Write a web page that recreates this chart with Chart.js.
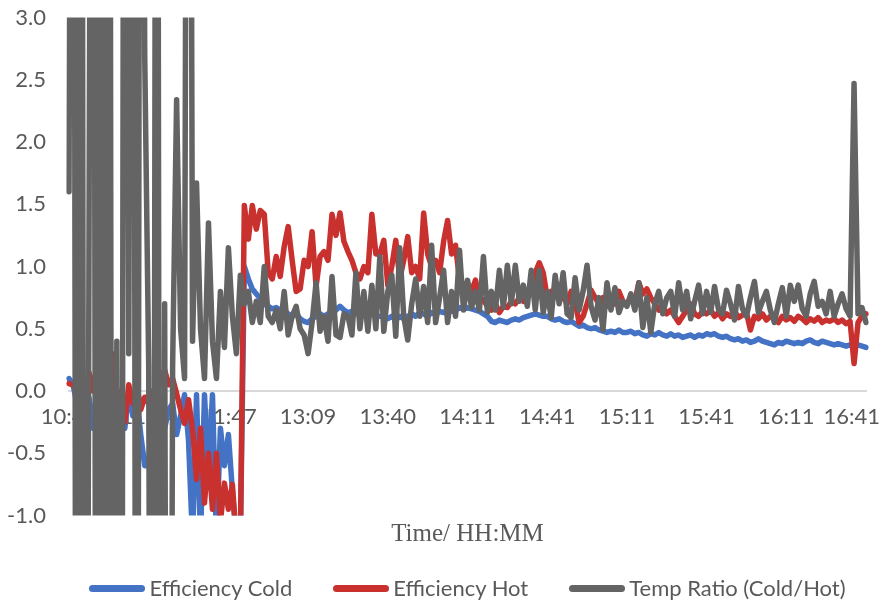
<!DOCTYPE html>
<html>
<head>
<meta charset="utf-8">
<script src="https://cdn.jsdelivr.net/npm/chart.js@4/dist/chart.umd.min.js"></script>
<style>
html, body { margin: 0; padding: 0; background: #ffffff; }
#wrap { width: 885px; height: 603px; position: relative; }
#legend { position: absolute; display: flex; justify-content: center; align-items: center;
          font-family: Lato, "Open Sans", sans-serif; font-size: 22px; color: #595959; height: 24px; line-height: 24px; white-space: nowrap; }
#legend .item { display: flex; align-items: center; margin: 0 20.5px; }
#legend .sw { display: inline-block; width: 56px; height: 7px; border-radius: 3.5px; margin-right: 4px; }
</style>
</head>
<body>
<div id="wrap"><canvas id="c"></canvas><div id="legend"></div></div>
<script>
// Tick labels shown on the time axis (one every POINTS_PER_TICK samples)
const tickLabels = ['10:44','11:14','11:47','13:09','13:40','14:11','14:41','15:11','15:41','16:11','16:41'];
const POINTS_PER_TICK = 20;

// Efficiency Cold (blue)
const effCold = [
  0.1, 0.05, -0.1, 0.02, -0.2, -0.05, -0.3, 0.0, -0.15, 0.05,
  -0.25, 0.0, -0.45, -0.1, -0.3, 0.0, -0.2, -0.05, -0.35, -0.6,
  -0.6, -0.1, -0.25, -0.05, -0.3, -0.15, -0.1, -0.35, -0.2, -0.03,
  -0.4, -1.2, -0.03, -1.2, -0.03, -0.7, -0.03, -1.2, -0.3, -0.6,
  -0.35, -0.8, -1.2, -1.2, 1.0, 0.9, 0.82, 0.78, 0.74, 0.7,
  0.68, 0.66, 0.67, 0.65, 0.64, 0.62, 0.6, 0.62, 0.58, 0.56,
  0.55, 0.58, 0.6, 0.62, 0.6, 0.62, 0.63, 0.65, 0.68, 0.65,
  0.63, 0.64, 0.62, 0.63, 0.62, 0.64, 0.62, 0.6, 0.6, 0.6,
  0.58, 0.6, 0.57, 0.6, 0.58, 0.6, 0.62, 0.6, 0.63, 0.62,
  0.6, 0.63, 0.62, 0.64, 0.63, 0.65, 0.64, 0.65, 0.67, 0.66,
  0.67, 0.66, 0.65, 0.64, 0.62, 0.6, 0.56, 0.55, 0.57, 0.56,
  0.55, 0.57, 0.58, 0.57, 0.59, 0.6, 0.61, 0.62, 0.61, 0.6,
  0.6, 0.58, 0.57, 0.58, 0.56, 0.55, 0.56, 0.54, 0.52, 0.53,
  0.51, 0.5, 0.51, 0.49, 0.48, 0.47, 0.48, 0.47, 0.49, 0.47,
  0.47, 0.48, 0.46, 0.47, 0.45, 0.44, 0.46, 0.45, 0.47, 0.45,
  0.44, 0.46, 0.44, 0.45, 0.43, 0.44, 0.45, 0.43, 0.45, 0.44,
  0.46, 0.45, 0.46, 0.44, 0.43, 0.44, 0.42, 0.41, 0.42, 0.4,
  0.41, 0.39, 0.4, 0.42, 0.4, 0.39, 0.38, 0.37, 0.39, 0.38,
  0.4, 0.39, 0.38, 0.39, 0.38, 0.4, 0.41, 0.39, 0.38, 0.4,
  0.39, 0.38, 0.37, 0.38, 0.37, 0.36, 0.37, 0.36, 0.37, 0.36,
  0.35
];

// Efficiency Hot (red)
const effHot = [
  0.06, 0.05, 0.0, 0.1, -0.05, 0.15, 0.0, 0.2, -0.1, 0.25,
  0.05, 0.3, -0.1, 0.0, -0.25, 0.05, -0.1, 0.05, -0.15, -0.05,
  -0.1, 0.0, -0.05, 0.1, 0.17, 0.05, 0.1, -0.02, -0.15, -0.26,
  -0.07, -0.31, -0.71, -0.3, -0.9, -0.5, -0.95, -0.5, -1.05, -0.74,
  -0.95, -0.75, -1.2, -1.2, 1.49, 1.22, 1.49, 1.3, 1.45, 1.42,
  0.95, 0.9, 1.08, 0.92, 1.16, 1.32, 1.05, 0.8, 0.82, 1.05,
  1.0, 1.28, 0.84, 1.08, 1.12, 1.05, 1.42, 1.25, 1.43, 1.2,
  1.12, 1.05, 0.95, 0.9, 1.0, 0.95, 1.42, 1.1, 1.1, 1.21,
  0.85, 1.0, 1.21, 0.9, 1.05, 1.24, 0.95, 1.0, 0.9, 1.43,
  1.1, 1.0, 1.05, 0.95, 1.2, 1.37, 1.1, 1.17, 0.89, 0.85,
  0.87, 0.8, 0.89, 0.75, 0.73, 0.68, 0.65, 0.7, 0.63, 0.68,
  0.67, 0.72, 0.7, 0.75, 0.72, 0.76, 0.8, 0.95, 1.03, 0.95,
  0.75, 0.8, 0.78, 0.85, 0.75, 0.7, 0.8, 0.72, 0.55, 0.6,
  0.7, 0.81, 0.75, 0.7, 0.75, 0.68, 0.72, 0.7, 0.8, 0.72,
  0.7, 0.75, 0.72, 0.87, 0.78, 0.82, 0.75, 0.7, 0.65, 0.68,
  0.62, 0.65, 0.6, 0.55, 0.6, 0.65, 0.7, 0.62, 0.6, 0.64,
  0.62, 0.65, 0.6, 0.63, 0.58, 0.62, 0.6, 0.64, 0.59, 0.61,
  0.63, 0.49, 0.6, 0.58, 0.62, 0.57, 0.6, 0.58, 0.55, 0.6,
  0.57, 0.59, 0.56, 0.6, 0.58, 0.55, 0.58, 0.56, 0.59, 0.55,
  0.57, 0.56, 0.58, 0.55, 0.57, 0.54, 0.56, 0.22, 0.55, 0.6,
  0.62
];

// Temp Ratio (Cold/Hot) (grey) - early readings swing far beyond the axis range
const tempRatio = [
  1.6, 12, -10, 12, -10, 0.95, 12, -10, 12, -10,
  12, -10, 0.4, -10, 12, 0.3, 12, -10, 12, 2.7,
  0.2, -10, 12, -10, 0.7, -10, 0.2, 2.34, 0.5, 0.1,
  12, 0.4, 1.67, 0.5, 0.1, 1.35, 0.4, 0.1, 0.8, 0.35,
  1.15, 0.6, 0.3, 0.93, 0.7, 0.8, 0.55, 0.72, 0.55, 1.0,
  0.6, 0.55, 0.65, 0.5, 0.8, 0.45, 0.6, 0.68, 0.5, 0.45,
  0.3, 0.55, 0.87, 0.48, 0.6, 0.4, 0.92, 0.45, 0.43, 0.62,
  0.6, 0.45, 0.95, 0.5, 0.8, 0.48, 0.85, 0.5, 1.08, 0.48,
  0.8, 0.93, 0.44, 1.15, 0.6, 0.41, 0.7, 0.9, 0.6, 0.84,
  0.55, 1.17, 0.55, 0.75, 0.97, 0.55, 0.8, 0.6, 1.13, 0.65,
  0.89, 0.67, 0.8, 0.65, 1.08, 0.63, 0.8, 0.65, 0.97, 0.67,
  1.01, 0.7, 1.01, 0.72, 0.85, 0.68, 0.97, 0.65, 0.97, 0.63,
  0.8, 0.59, 0.93, 0.7, 0.95, 0.62, 0.59, 0.91, 0.65, 0.8,
  1.01, 0.68, 0.57, 0.75, 0.49, 0.87, 0.65, 0.83, 0.63, 0.72,
  0.68, 0.78, 0.65, 0.87, 0.51, 0.75, 0.47, 0.7, 0.8, 0.62,
  0.75, 0.8, 0.6, 0.87, 0.65, 0.8, 0.58, 0.72, 0.85, 0.62,
  0.8, 0.63, 0.84, 0.65, 0.62, 0.81, 0.7, 0.57, 0.84, 0.66,
  0.6, 0.75, 0.88, 0.63, 0.72, 0.8, 0.65, 0.55, 0.7, 0.83,
  0.6, 0.85, 0.72, 0.85, 0.66, 0.6, 0.78, 0.88, 0.68, 0.72,
  0.62, 0.8, 0.6, 0.7, 0.78, 0.66, 0.6, 2.47, 0.62, 0.67,
  0.55
];

const seriesNames = ['Efficiency Cold', 'Efficiency Hot', 'Temp Ratio (Cold/Hot)'];
const seriesColors = ['#4472C4', '#C9312F', '#646464'];

// category labels: a time label every POINTS_PER_TICK samples
const categories = effCold.map((_, i) => (i % POINTS_PER_TICK === 0 ? tickLabels[i / POINTS_PER_TICK] : ''));

const TEXT = '#595959';
const SANS = 'Lato, "Open Sans", sans-serif';

// keep the last time label inside the canvas (as the reference does)
const edgeLabelPlugin = {
  id: 'edgeLabel',
  beforeDraw(chart) {
    const s = chart.scales.x;
    const items = s.getLabelItems(chart.chartArea);
    let last = null;
    for (let k = items.length - 1; k >= 0; k--) {
      if (items[k].label !== '' && items[k].label != null) { last = items[k]; break; }
    }
    if (!last) return;
    const ctx = chart.ctx;
    ctx.save();
    ctx.font = last.font.string;
    const w = ctx.measureText(last.label).width;
    ctx.restore();
    const limit = chart.width - 5;
    const right = last.options.translation[0] + w / 2;
    if (right > limit) last.options.translation[0] -= (right - limit);
  }
};

// HTML legend built from the chart's own legend items, centred under the plot area
const htmlLegendPlugin = {
  id: 'htmlLegend',
  afterUpdate(chart) {
    const box = document.getElementById('legend');
    const area = chart.chartArea;
    box.style.left = area.left + 'px';
    box.style.width = (area.right - area.left) + 'px';
    box.style.top = (area.bottom + 60.5) + 'px';
    box.innerHTML = '';
    const items = chart.options.plugins.legend.labels.generateLabels(chart)
      .sort((a, b) => a.datasetIndex - b.datasetIndex);
    items.forEach(it => {
      const el = document.createElement('span');
      el.className = 'item';
      const sw = document.createElement('span');
      sw.className = 'sw';
      sw.style.background = it.strokeStyle;
      const tx = document.createElement('span');
      tx.textContent = it.text;
      el.appendChild(sw);
      el.appendChild(tx);
      box.appendChild(el);
    });
  }
};

function ds(idx, data, order) {
  return {
    label: seriesNames[idx],
    data: data,
    borderColor: seriesColors[idx],
    backgroundColor: seriesColors[idx],
    borderWidth: 5.5,
    pointRadius: 0,
    pointHoverRadius: 0,
    tension: 0,
    borderJoinStyle: 'round',
    borderCapStyle: 'round',
    order: order
  };
}

new Chart(document.getElementById('c'), {
  type: 'line',
  data: {
    labels: categories,
    datasets: [ds(0, effCold, 2), ds(1, effHot, 1), ds(2, tempRatio, 0)]
  },
  options: {
    responsive: true,
    maintainAspectRatio: false,
    animation: false,
    events: [],
    layout: { padding: { left: 0, right: 19, top: 17.5, bottom: 53.5 } },
    scales: {
      x: {
        type: 'category',
        position: { y: 0 },
        offset: false,
        grid: { display: false, drawTicks: false },
        border: { display: true, color: '#D9D9D9', width: 2 },
        ticks: {
          autoSkip: false,
          maxRotation: 0,
          minRotation: 0,
          padding: 13,
          color: TEXT,
          font: { family: SANS, size: 22 },
          callback: function (v, i) { return categories[i] === '' ? null : categories[i]; }
        },
        afterFit: function (scale) { scale.paddingLeft = 0; scale.paddingRight = 0; }
      },
      y: {
        type: 'linear',
        min: -1,
        max: 3,
        grid: { display: false, drawTicks: false },
        border: { display: false },
        ticks: {
          stepSize: 0.5,
          padding: 23,
          color: TEXT,
          font: { family: SANS, size: 22 },
          callback: function (v) { return Number(v).toFixed(1); }
        },
        afterFit: function (scale) { scale.width = 69; scale.paddingTop = 0; scale.paddingBottom = 0; }
      }
    },
    plugins: {
      tooltip: { enabled: false },
      legend: { display: false },
      title: {
        display: true,
        text: 'Time/ HH:MM',
        position: 'bottom',
        fullSize: false,
        color: TEXT,
        font: { family: '"Liberation Serif", "Times New Roman", serif', size: 25, weight: 'normal' },
        padding: { top: 4, bottom: 0 }
      }
    }
  },
  plugins: [edgeLabelPlugin, htmlLegendPlugin]
});
</script>
</body>
</html>
